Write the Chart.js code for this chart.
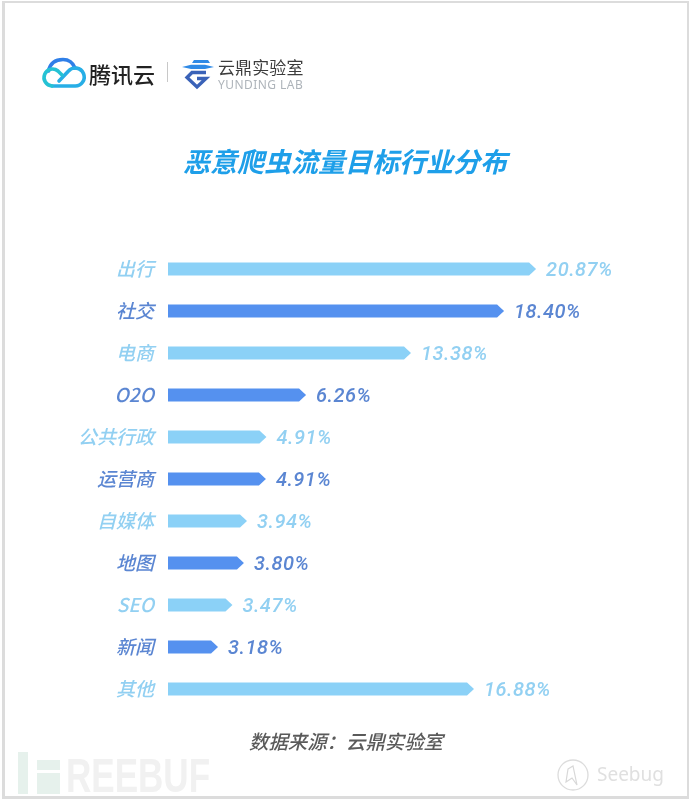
<!DOCTYPE html>
<html lang="zh">
<head>
<meta charset="utf-8">
<style>
html,body{margin:0;padding:0;background:#fff;}
#wrap{position:relative;width:690px;height:801px;overflow:hidden;background:#fff;}
#chart{position:absolute;left:0;top:0;}
#frame{position:absolute;left:2px;top:1px;right:1px;bottom:2px;border:solid #dcdcdc;border-width:2px 2px 3px 3px;pointer-events:none;}
.t{position:absolute;white-space:nowrap;font-family:"Noto Sans CJK SC",sans-serif;line-height:1;}
.b{position:absolute;background:#e6f1ec;}
svg{position:absolute;overflow:visible;}
</style>
</head>
<body>
<div id="wrap">
<canvas id="chart" width="690" height="801"></canvas>
<svg style="left:42px;top:57px" width="44" height="32" viewBox="0 0 44 32">
  <path d="M6.5 14 C8 7 13 2.500 21 2.500 C27 2.500 31 6 33 11" fill="none" stroke="#2f7fe8" stroke-width="3.6" stroke-linecap="round"/>
  <path d="M10 29 H33 A9 9 0 1 0 26.500 14 L17 24" fill="none" stroke="#27aee6" stroke-width="3.6" stroke-linecap="round" stroke-linejoin="round"/>
  <path d="M10 29 A8.500 8.500 0 1 1 16 14 L20 18" fill="none" stroke="#25c2d4" stroke-width="3.6" stroke-linecap="round"/>
</svg>
<div class="t" style="left:89px;top:62px;font-size:22px;color:#222;font-weight:500">腾讯云</div>
<div style="position:absolute;left:167px;top:62px;width:1px;height:20px;background:#c8c8c8"></div>
<svg style="left:181px;top:60px" width="34" height="29" viewBox="0 0 34 29">
  <path d="M13 0 H27 L29 3 H11 Z" fill="#2f8ae6"/>
  <path d="M1 7 L10 4.800 H24 L33 7 L24 9 H10 Z" fill="#2f8ae6"/>
  <path d="M25 12.500 H11 L6 17.500 L16 27 L25 18.500 H16" fill="none" stroke="#3a62b8" stroke-width="3.4" stroke-linejoin="miter"/>
</svg>
<div class="t" style="left:218px;top:58px;font-size:17px;color:#3c3c3c;letter-spacing:.1px">云鼎实验室</div>
<div class="t" style="left:218px;top:79px;font-size:12px;color:#aeb4ba;font-family:'Noto Sans',sans-serif;letter-spacing:.45px">YUNDING LAB</div>
<div class="b" style="left:18px;top:752px;width:10px;height:42px"></div>
<div class="b" style="left:37px;top:760px;width:23px;height:10px"></div>
<div class="b" style="left:37px;top:773px;width:23px;height:21px"></div>
<div class="t" style="left:66px;top:752px;font-size:48px;font-weight:700;color:#f1f1f1;font-family:'Liberation Sans',sans-serif;transform:scaleX(.73);transform-origin:0 0">REEBUF</div>
<svg style="left:556px;top:757px" width="34" height="36" viewBox="0 0 34 36">
  <circle cx="17" cy="18" r="15" fill="none" stroke="#dcdcdc" stroke-width="1.3"/>
  <path d="M12 12 L17 9 L21 28 L16 21 L10 25 Z" fill="none" stroke="#d8d8d8" stroke-width="1.2"/>
</svg>
<div class="t" style="left:597px;top:765px;font-size:19px;color:#e0e0e0;font-family:'Noto Sans',sans-serif">Seebug</div>
<div id="frame"></div>
</div>
<script src="https://cdn.jsdelivr.net/npm/chart.js@4/dist/chart.umd.min.js"></script>
<script>
const categories = ['出行','社交','电商','O2O','公共行政','运营商','自媒体','地图','SEO','新闻','其他'];
// Percentages as printed beside each bar.
const printedPercent = ['20.87%','18.40%','13.38%','6.26%','4.91%','4.91%','3.94%','3.80%','3.47%','3.18%','16.88%'];
// The reference's bars are not proportional to their printed figures,
// so these are the bar lengths, in axis units.
const barLengths = [20.45,18.67,13.5,7.67,5.47,5.44,4.39,4.22,3.58,2.78,17.0];
const lightBar = '#8bd1f7', darkBar = '#5591ef';
const lightText = '#92d0f2', darkText = '#5b86d2';
const tone = i => i % 2 === 0;

const pentagonBars = {
  id: 'pentagonBars',
  beforeDatasetDraw(chart, args) {
    const { ctx } = chart;
    args.meta.data.forEach((el, i) => {
      const top = el.y - el.height / 2, bottom = el.y + el.height / 2;
      ctx.save();
      ctx.fillStyle = tone(i) ? lightBar : darkBar;
      ctx.beginPath();
      ctx.moveTo(el.base, top);
      ctx.lineTo(el.x - 7, top);
      ctx.lineTo(el.x, el.y);
      ctx.lineTo(el.x - 7, bottom);
      ctx.lineTo(el.base, bottom);
      ctx.closePath();
      ctx.fill();
      ctx.restore();
    });
    return false;
  },
  afterDatasetsDraw(chart) {
    const { ctx } = chart;
    chart.getDatasetMeta(0).data.forEach((el, i) => {
      ctx.save();
      ctx.font = 'italic 500 20px Roboto, "Noto Sans", sans-serif';
      ctx.fillStyle = tone(i) ? lightText : darkText;
      ctx.textAlign = 'left';
      ctx.textBaseline = 'middle';
      if ('letterSpacing' in ctx) ctx.letterSpacing = '0.5px';
      ctx.fillText(printedPercent[i], el.x + 10, el.y + 2);
      ctx.restore();
    });
  },
  afterDraw(chart) {
    const { ctx } = chart;
    ctx.save();
    ctx.font = 'italic 500 19.4px "Noto Sans CJK SC", sans-serif';
    ctx.fillStyle = '#5a5a5a';
    ctx.textAlign = 'center';
    ctx.textBaseline = 'middle';
    ctx.fillText('数据来源：云鼎实验室', 346, 742);
    ctx.restore();
  }
};

new Chart(document.getElementById('chart'), {
  type: 'bar',
  data: {
    labels: categories,
    datasets: [{ data: barLengths, backgroundColor: lightBar, barThickness: 13 }]
  },
  plugins: [pentagonBars],
  options: {
    indexAxis: 'y',
    responsive: false,
    animation: false,
    layout: { padding: { bottom: 91 } },
    plugins: {
      legend: { display: false },
      tooltip: { enabled: false },
      title: {
        display: true,
        text: '恶意爬虫流量目标行业分布',
        color: '#1e9fe9',
        font: { family: '"Noto Sans CJK SC", sans-serif', size: 27, weight: '700', style: 'italic', lineHeight: 1.2 },
        padding: { top: 146, bottom: 69.6 }
      }
    },
    scales: {
      x: { display: false, min: 0, max: 29 },
      y: {
        afterFit(scale) { scale.width = 168; },
        border: { display: false },
        grid: { display: false },
        ticks: {
          padding: 6,
          autoSkip: false,
          color: c => tone(c.index) ? lightText : darkText,
          font: { family: '"Noto Sans CJK SC", sans-serif', size: 19, style: 'italic', weight: '500' }
        }
      }
    }
  }
});
</script>
</body>
</html>
